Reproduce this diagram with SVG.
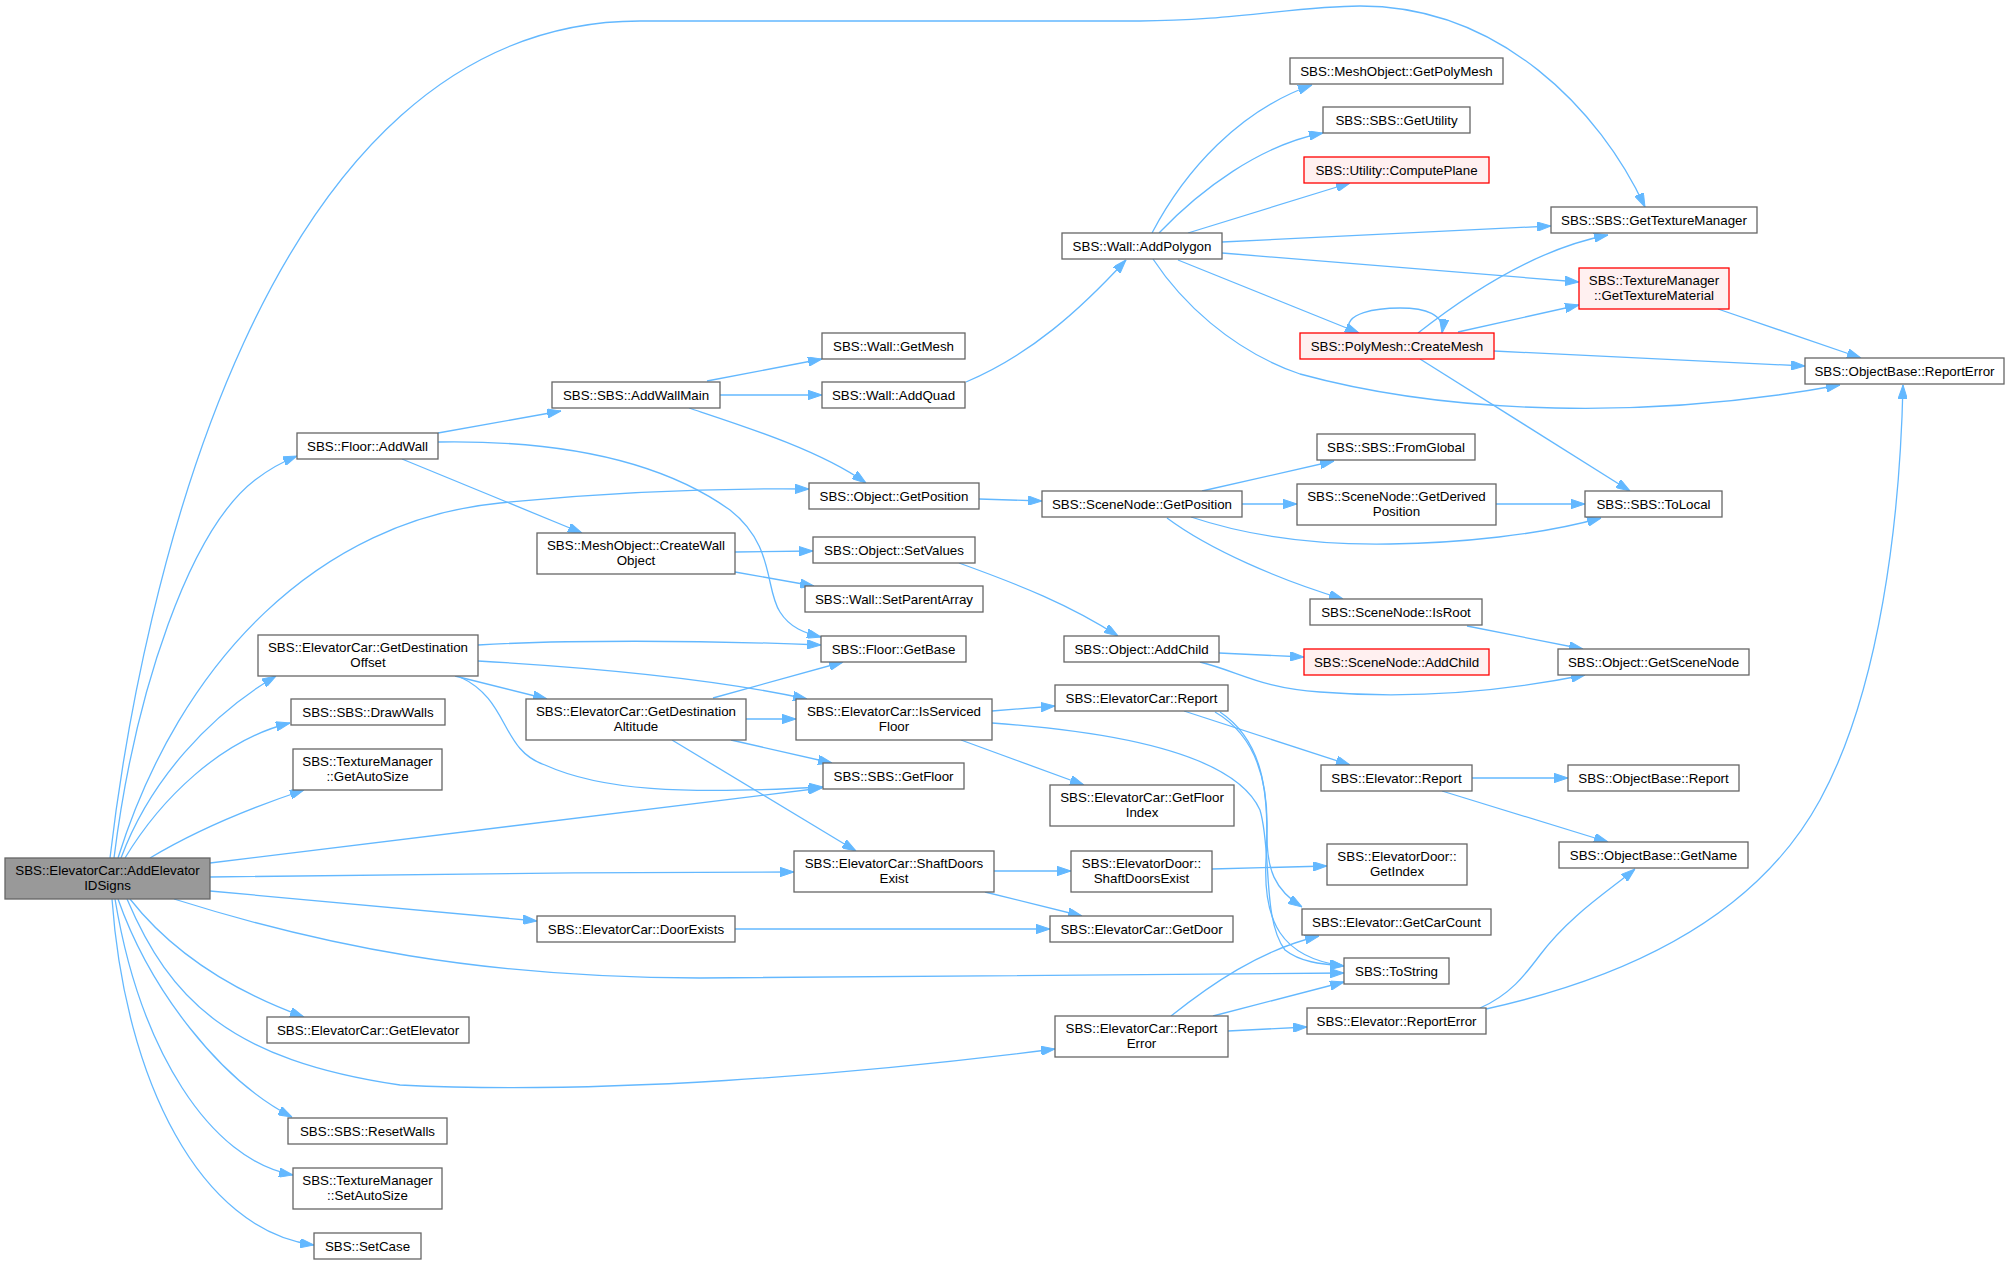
<svg xmlns="http://www.w3.org/2000/svg" width="2009" height="1264" viewBox="0 0 2009 1264">
<defs>
<style>
.n rect{fill:#ffffff;stroke:#666666;stroke-width:1.3}
.n.r rect{fill:#FFF0F0;stroke:#FF0000}
.n.root rect{fill:#999999;stroke:#666666}
.n text{font-family:"Liberation Sans",Arial,Helvetica,sans-serif;font-size:13.33px;text-anchor:middle;fill:#000000}
#edges path{fill:none;stroke:#63B8FF;stroke-width:1.3;marker-end:url(#ah)}
</style>
<marker id="ah" viewBox="0 0 14 9.4" refX="14" refY="4.7" markerWidth="14" markerHeight="9.4" markerUnits="userSpaceOnUse" orient="auto">
<path d="M0,0 L14,4.7 L0,9.4 Z" fill="#63B8FF" stroke="#63B8FF" stroke-width="1"/>
</marker>
</defs>
<rect width="2009" height="1264" fill="#ffffff"/>
<g id="edges">
<path d="M110,858 C140,600 260,21 640,21 L1140,21 C1230,21 1300,6 1360,6 C1500,6 1600,110 1645,207"/>
<path d="M114,858 C135,690 190,530 255,480 C268,470 282,462 297,456"/>
<path d="M118,858 C180,660 320,520 500,503 C600,493 700,488 809,489"/>
<path d="M121,858 C150,780 210,715 276,676"/>
<path d="M125,858 C160,800 220,740 290,723"/>
<path d="M150,858 C200,828 250,808 304,790"/>
<path d="M210,863 L822,788"/>
<path d="M210,877 C400,874 600,872 794,872"/>
<path d="M210,891 L537,921"/>
<path d="M174,899 C320,945 480,978 700,978 C900,978 1100,975 1344,973"/>
<path d="M130,899 C170,950 230,990 304,1017"/>
<path d="M127,899 C170,1000 230,1060 400,1085 C600,1095 850,1075 1055,1049"/>
<path d="M118,899 C150,990 220,1080 292,1117"/>
<path d="M115,899 C140,1050 210,1160 293,1175"/>
<path d="M112,899 C125,1080 200,1230 314,1245"/>
<path d="M438,433 L561,411"/>
<path d="M438,442 C560,440 660,460 730,510 C775,545 765,590 780,612 C790,628 805,633 821,637"/>
<path d="M402,459 L582,533"/>
<path d="M707,381 L822,359"/>
<path d="M720,395 L822,395"/>
<path d="M689,408 C740,425 820,450 866,483"/>
<path d="M735,552 L813,551"/>
<path d="M735,572 L814,586"/>
<path d="M478,645 C560,640 700,640 821,645"/>
<path d="M478,661 C600,668 720,680 807,699"/>
<path d="M455,676 L547,699"/>
<path d="M460,677 C510,700 500,750 545,765 C600,790 680,795 823,787"/>
<path d="M713,698 L843,662"/>
<path d="M746,719 L796,719"/>
<path d="M731,740 L832,763"/>
<path d="M672,740 L856,851"/>
<path d="M992,711 L1055,706"/>
<path d="M961,740 L1084,785"/>
<path d="M992,723 C1120,732 1235,755 1260,810 C1272,850 1262,920 1285,950 C1300,962 1320,964 1344,966"/>
<path d="M1220,712 C1262,740 1270,790 1266,860 C1263,920 1280,958 1344,966"/>
<path d="M1215,712 C1255,735 1268,780 1267,830 C1266,870 1275,890 1302,907"/>
<path d="M1184,711 L1350,765"/>
<path d="M1472,778 L1568,778"/>
<path d="M1442,791 L1608,842"/>
<path d="M994,871 L1071,871"/>
<path d="M985,892 L1082,916"/>
<path d="M1212,869 L1327,866"/>
<path d="M735,929 L1050,929"/>
<path d="M1171,1016 C1210,985 1260,950 1319,936"/>
<path d="M1213,1016 L1344,982"/>
<path d="M1228,1031 L1307,1027"/>
<path d="M1480,1008 C1510,995 1525,975 1540,955 C1570,915 1610,890 1635,869"/>
<path d="M1486,1009 C1640,975 1760,910 1820,800 C1880,690 1900,520 1903,385"/>
<path d="M966,382 C1030,355 1080,310 1126,260"/>
<path d="M1152,233 C1185,170 1240,110 1312,85"/>
<path d="M1159,233 C1200,190 1260,145 1323,133"/>
<path d="M1188,233 L1350,183"/>
<path d="M1222,242 L1551,226"/>
<path d="M1222,253 L1579,282"/>
<path d="M1178,260 L1359,333"/>
<path d="M1153,259 C1180,300 1230,350 1300,374 C1450,415 1650,420 1840,385"/>
<path d="M1350,333 C1340,312 1380,308 1400,308 C1425,308 1445,314 1442,333"/>
<path d="M1418,333 C1460,300 1530,250 1608,235"/>
<path d="M1458,332 L1579,305"/>
<path d="M1494,351 L1805,366"/>
<path d="M1420,359 L1630,491"/>
<path d="M1718,309 L1861,358"/>
<path d="M979,499 L1042,501"/>
<path d="M1202,491 L1334,461"/>
<path d="M1242,504 L1297,504"/>
<path d="M1191,517 C1260,540 1330,545 1390,544 C1460,543 1540,535 1601,518"/>
<path d="M1167,518 C1210,550 1280,580 1343,599"/>
<path d="M1496,504 L1585,504"/>
<path d="M1467,626 L1583,649"/>
<path d="M959,563 C1020,585 1070,605 1118,636"/>
<path d="M1219,653 L1304,657"/>
<path d="M1200,662 C1240,672 1260,688 1320,692 C1420,700 1510,690 1585,675"/>
</g>
<g id="n_root" class="n root"><rect x="5" y="858" width="205" height="41"/><text x="107.5" y="875">SBS::ElevatorCar::AddElevator</text><text x="107.5" y="890">IDSigns</text></g>
<g id="n_addwall" class="n"><rect x="297" y="433" width="141" height="26"/><text x="367.5" y="450.5">SBS::Floor::AddWall</text></g>
<g id="n_addwallmain" class="n"><rect x="552" y="382" width="168" height="26"/><text x="636" y="399.5">SBS::SBS::AddWallMain</text></g>
<g id="n_createwallobject" class="n"><rect x="537" y="533" width="198" height="41"/><text x="636" y="550">SBS::MeshObject::CreateWall</text><text x="636" y="565">Object</text></g>
<g id="n_getdestoffset" class="n"><rect x="258" y="635" width="220" height="41"/><text x="368" y="652">SBS::ElevatorCar::GetDestination</text><text x="368" y="667">Offset</text></g>
<g id="n_drawwalls" class="n"><rect x="291" y="699" width="154" height="26"/><text x="368" y="716.5">SBS::SBS::DrawWalls</text></g>
<g id="n_getautosize" class="n"><rect x="293" y="749" width="149" height="41"/><text x="367.5" y="766">SBS::TextureManager</text><text x="367.5" y="781">::GetAutoSize</text></g>
<g id="n_getdestaltitude" class="n"><rect x="526" y="699" width="220" height="41"/><text x="636" y="716">SBS::ElevatorCar::GetDestination</text><text x="636" y="731">Altitude</text></g>
<g id="n_doorexists" class="n"><rect x="537" y="916" width="198" height="26"/><text x="636" y="933.5">SBS::ElevatorCar::DoorExists</text></g>
<g id="n_getelevator" class="n"><rect x="267" y="1017" width="202" height="26"/><text x="368" y="1034.5">SBS::ElevatorCar::GetElevator</text></g>
<g id="n_resetwalls" class="n"><rect x="288" y="1118" width="159" height="26"/><text x="367.5" y="1135.5">SBS::SBS::ResetWalls</text></g>
<g id="n_setautosize" class="n"><rect x="293" y="1168" width="149" height="41"/><text x="367.5" y="1185">SBS::TextureManager</text><text x="367.5" y="1200">::SetAutoSize</text></g>
<g id="n_setcase" class="n"><rect x="314" y="1233" width="107" height="26"/><text x="367.5" y="1250.5">SBS::SetCase</text></g>
<g id="n_getmesh" class="n"><rect x="822" y="333" width="143" height="26"/><text x="893.5" y="350.5">SBS::Wall::GetMesh</text></g>
<g id="n_addquad" class="n"><rect x="822" y="382" width="143" height="26"/><text x="893.5" y="399.5">SBS::Wall::AddQuad</text></g>
<g id="n_addpolygon" class="n"><rect x="1062" y="233" width="160" height="26"/><text x="1142" y="250.5">SBS::Wall::AddPolygon</text></g>
<g id="n_getpolymesh" class="n"><rect x="1290" y="58" width="213" height="26"/><text x="1396.5" y="75.5">SBS::MeshObject::GetPolyMesh</text></g>
<g id="n_getutility" class="n"><rect x="1323" y="107" width="147" height="26"/><text x="1396.5" y="124.5">SBS::SBS::GetUtility</text></g>
<g id="n_computeplane" class="n r"><rect x="1304" y="157" width="185" height="26"/><text x="1396.5" y="174.5">SBS::Utility::ComputePlane</text></g>
<g id="n_gettexturemanager" class="n"><rect x="1551" y="207" width="206" height="26"/><text x="1654" y="224.5">SBS::SBS::GetTextureManager</text></g>
<g id="n_gettexturematerial" class="n r"><rect x="1579" y="268" width="150" height="41"/><text x="1654" y="285">SBS::TextureManager</text><text x="1654" y="300">::GetTextureMaterial</text></g>
<g id="n_createmesh" class="n r"><rect x="1300" y="333" width="194" height="26"/><text x="1397" y="350.5">SBS::PolyMesh::CreateMesh</text></g>
<g id="n_obreporterror" class="n"><rect x="1805" y="358" width="199" height="26"/><text x="1904.5" y="375.5">SBS::ObjectBase::ReportError</text></g>
<g id="n_objgetposition" class="n"><rect x="809" y="483" width="170" height="26"/><text x="894" y="500.5">SBS::Object::GetPosition</text></g>
<g id="n_sngetposition" class="n"><rect x="1042" y="491" width="200" height="26"/><text x="1142" y="508.5">SBS::SceneNode::GetPosition</text></g>
<g id="n_setvalues" class="n"><rect x="813" y="537" width="162" height="26"/><text x="894" y="554.5">SBS::Object::SetValues</text></g>
<g id="n_setparentarray" class="n"><rect x="805" y="586" width="178" height="26"/><text x="894" y="603.5">SBS::Wall::SetParentArray</text></g>
<g id="n_getbase" class="n"><rect x="821" y="636" width="145" height="26"/><text x="893.5" y="653.5">SBS::Floor::GetBase</text></g>
<g id="n_objaddchild" class="n"><rect x="1064" y="636" width="155" height="26"/><text x="1141.5" y="653.5">SBS::Object::AddChild</text></g>
<g id="n_isservicedfloor" class="n"><rect x="796" y="699" width="196" height="41"/><text x="894" y="716">SBS::ElevatorCar::IsServiced</text><text x="894" y="731">Floor</text></g>
<g id="n_ecreport" class="n"><rect x="1055" y="685" width="173" height="26"/><text x="1141.5" y="702.5">SBS::ElevatorCar::Report</text></g>
<g id="n_getfloor" class="n"><rect x="823" y="763" width="141" height="26"/><text x="893.5" y="780.5">SBS::SBS::GetFloor</text></g>
<g id="n_getfloorindex" class="n"><rect x="1050" y="785" width="184" height="41"/><text x="1142" y="802">SBS::ElevatorCar::GetFloor</text><text x="1142" y="817">Index</text></g>
<g id="n_shaftdoorsexist" class="n"><rect x="794" y="851" width="200" height="41"/><text x="894" y="868">SBS::ElevatorCar::ShaftDoors</text><text x="894" y="883">Exist</text></g>
<g id="n_edshaftdoorsexist" class="n"><rect x="1071" y="851" width="141" height="41"/><text x="1141.5" y="868">SBS::ElevatorDoor::</text><text x="1141.5" y="883">ShaftDoorsExist</text></g>
<g id="n_getdoor" class="n"><rect x="1050" y="916" width="183" height="26"/><text x="1141.5" y="933.5">SBS::ElevatorCar::GetDoor</text></g>
<g id="n_ecreporterror" class="n"><rect x="1055" y="1016" width="173" height="41"/><text x="1141.5" y="1033">SBS::ElevatorCar::Report</text><text x="1141.5" y="1048">Error</text></g>
<g id="n_fromglobal" class="n"><rect x="1317" y="434" width="158" height="26"/><text x="1396" y="451.5">SBS::SBS::FromGlobal</text></g>
<g id="n_getderivedposition" class="n"><rect x="1297" y="484" width="199" height="41"/><text x="1396.5" y="501">SBS::SceneNode::GetDerived</text><text x="1396.5" y="516">Position</text></g>
<g id="n_tolocal" class="n"><rect x="1585" y="491" width="137" height="26"/><text x="1653.5" y="508.5">SBS::SBS::ToLocal</text></g>
<g id="n_isroot" class="n"><rect x="1310" y="599" width="172" height="26"/><text x="1396" y="616.5">SBS::SceneNode::IsRoot</text></g>
<g id="n_snaddchild" class="n r"><rect x="1304" y="649" width="185" height="26"/><text x="1396.5" y="666.5">SBS::SceneNode::AddChild</text></g>
<g id="n_getscenenode" class="n"><rect x="1558" y="649" width="191" height="26"/><text x="1653.5" y="666.5">SBS::Object::GetSceneNode</text></g>
<g id="n_elevreport" class="n"><rect x="1321" y="765" width="151" height="26"/><text x="1396.5" y="782.5">SBS::Elevator::Report</text></g>
<g id="n_obreport" class="n"><rect x="1568" y="765" width="171" height="26"/><text x="1653.5" y="782.5">SBS::ObjectBase::Report</text></g>
<g id="n_obgetname" class="n"><rect x="1559" y="842" width="189" height="26"/><text x="1653.5" y="859.5">SBS::ObjectBase::GetName</text></g>
<g id="n_edgetindex" class="n"><rect x="1327" y="844" width="140" height="41"/><text x="1397" y="861">SBS::ElevatorDoor::</text><text x="1397" y="876">GetIndex</text></g>
<g id="n_getcarcount" class="n"><rect x="1302" y="909" width="189" height="26"/><text x="1396.5" y="926.5">SBS::Elevator::GetCarCount</text></g>
<g id="n_tostring" class="n"><rect x="1344" y="958" width="105" height="26"/><text x="1396.5" y="975.5">SBS::ToString</text></g>
<g id="n_elevreporterror" class="n"><rect x="1307" y="1008" width="179" height="26"/><text x="1396.5" y="1025.5">SBS::Elevator::ReportError</text></g>
</svg>
